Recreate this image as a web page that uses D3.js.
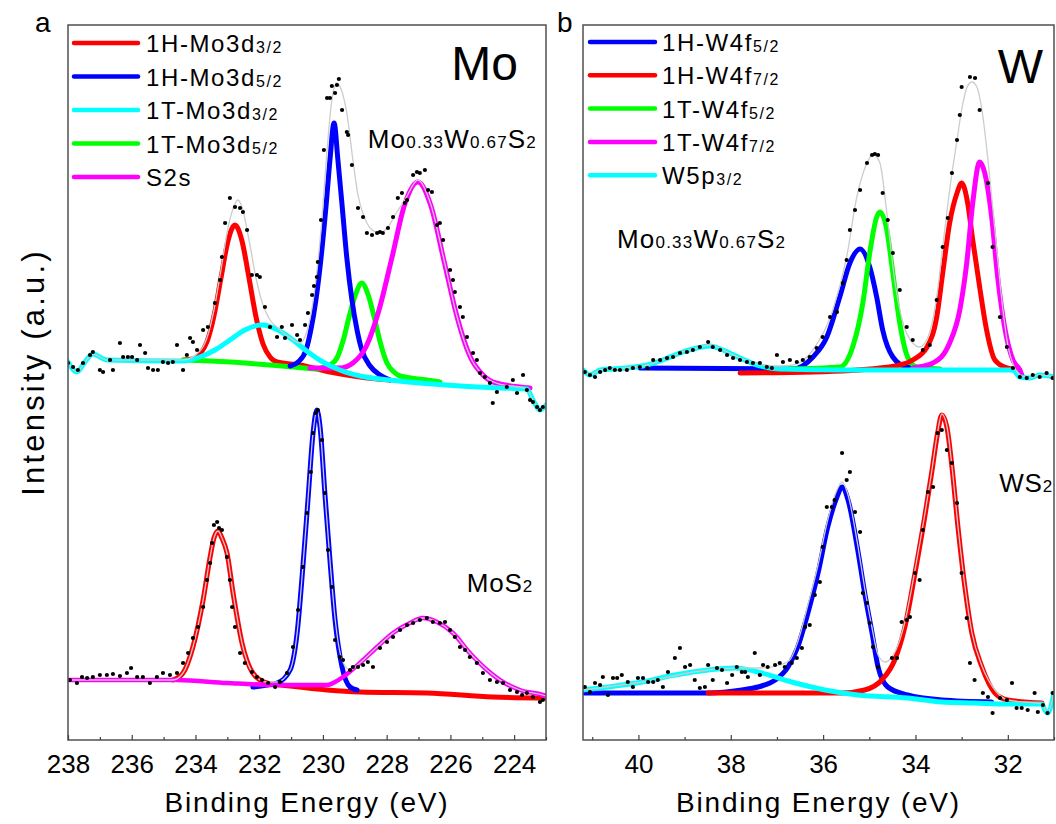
<!DOCTYPE html>
<html><head><meta charset="utf-8">
<script src="https://cdn.jsdelivr.net/npm/d3@7"></script>
<style>
body{margin:0;background:#fff}
svg{display:block}
text{font-family:"Liberation Sans",Arial,sans-serif;fill:#000}
</style>
</head><body>
<svg id="chart" width="1056" height="824"></svg>
<script>
// ---------------- DATA ----------------
const moDomain = [238, 223];
const wDomain = [41.2, 31];
const intensityDomain = [0, 715];
const moTicksMajor = [238, 236, 234, 232, 230, 228, 226, 224];
const moTicksMinor = [237, 235, 233, 231, 229, 227, 225, 223];
const wTicksMajor = [40, 38, 36, 34, 32];
const wTicksMinor = [41, 39, 37, 35, 33, 31];

const moLegendMain = ["1H-Mo3d", "1H-Mo3d", "1T-Mo3d", "1T-Mo3d", "S2s"];
const moLegendSub = ["3/2", "5/2", "3/2", "5/2", ""];
const moLegendColors = ["#ff0000", "#0000ff", "#00ffff", "#00ff00", "#ff00ff"];
const wLegendMain = ["1H-W4f", "1H-W4f", "1T-W4f", "1T-W4f", "W5p"];
const wLegendSub = ["5/2", "7/2", "5/2", "7/2", "3/2"];
const wLegendColors = ["#0000ff", "#ff0000", "#00ff00", "#ff00ff", "#00ffff"];

// Panel a, Mo0.33W0.67S2 (energy eV, intensity a.u.)
const aTopRed = [[234.39,380],[234.08,381],[233.86,386],[233.64,398],[233.42,424],[233.20,462],[232.98,499],[232.76,515],[232.54,499],[232.32,462],[232.10,423],[231.88,396],[231.66,383],[231.44,378],[230.72,375],[229.78,368],[228.84,363],[227.90,360]];
const aTopBlue = [[231.03,374],[230.78,378],[230.53,390],[230.38,410],[230.22,440],[230.06,482],[229.90,535],[229.78,580],[229.65,617],[229.53,580],[229.40,535],[229.25,482],[229.09,440],[228.93,410],[228.78,390],[228.52,374],[228.21,365],[227.90,360]];
const aTopCyan = [[238.00,378],[237.72,368],[237.47,378],[237.22,386],[236.78,380],[234.39,379],[233.86,383],[233.39,390],[232.92,400],[232.45,410],[231.91,415],[231.41,410],[230.94,400],[230.47,388],[230.00,378],[229.47,370],[228.84,364],[227.90,360],[226.96,357],[225.70,354],[224.44,352],[223.60,351],[223.41,340],[223.19,330],[223.00,335]];
const aTopGreen = [[234.39,380],[232.92,378],[230.94,373],[230.16,371],[229.97,373],[229.78,375],[229.56,382],[229.37,399],[229.18,423],[228.96,447],[228.78,457],[228.59,446],[228.37,420],[228.18,395],[227.99,377],[227.77,368],[227.58,364],[226.74,360],[226.33,358]];
const aTopS2s = [[230.41,372],[229.47,372],[229.06,377],[228.65,393],[228.24,430],[227.83,483],[227.43,536],[227.02,558],[226.61,534],[226.20,479],[225.79,423],[225.39,384],[224.98,365],[224.57,357],[223.50,352]];
const aTopFit = [[238.00,378],[237.72,368],[237.47,378],[237.22,386],[236.78,380],[234.39,380],[233.86,389],[233.64,402],[233.42,430],[233.20,470],[232.98,512],[232.76,536],[232.67,540],[232.54,533],[232.32,500],[232.10,462],[231.88,435],[231.66,420],[231.41,412],[231.03,402],[230.72,397],[230.53,406],[230.38,425],[230.22,460],[230.06,510],[229.87,590],[229.72,640],[229.56,657],[229.40,648],[229.25,627],[229.06,580],[228.90,545],[228.78,530],[228.62,517],[228.46,510],[228.21,507],[227.96,513],[227.68,528],[227.43,540],[227.02,560],[226.61,535],[226.20,480],[225.79,423],[225.39,384],[224.98,365],[224.57,357],[223.60,351],[223.41,340],[223.19,330],[223.00,335]];
const aTopData = [[238.00,377],[237.84,373],[237.69,370],[237.53,377],[237.31,385],[237.22,388],[237.00,370],[236.90,368],[236.68,380],[236.59,370],[236.37,397],[236.27,383],[236.12,383],[235.99,383],[235.83,380],[235.74,395],[235.58,387],[235.49,372],[235.33,370],[235.18,370],[235.02,378],[234.86,377],[234.71,378],[234.58,395],[234.39,370],[234.27,385],[234.17,402],[234.08,398],[233.95,390],[233.76,410],[233.61,413],[233.39,437],[233.23,460],[233.17,483],[233.07,517],[232.92,542],[232.76,533],[232.60,532],[232.51,528],[232.38,510],[232.23,465],[232.07,465],[231.98,463],[231.82,433],[231.66,413],[231.44,403],[231.29,413],[231.19,402],[230.97,415],[230.81,405],[230.72,400],[230.56,415],[230.47,427],[230.34,445],[230.28,454],[230.19,463],[230.16,478],[230.06,520],[229.97,590],[229.87,642],[229.78,642],[229.72,654],[229.62,647],[229.56,655],[229.50,661],[229.40,630],[229.25,608],[229.21,605],[229.09,575],[228.90,532],[228.74,523],[228.62,507],[228.46,505],[228.30,507],[228.21,508],[228.12,507],[227.96,512],[227.80,523],[227.65,542],[227.52,547],[227.43,537],[227.36,540],[227.17,565],[227.05,568],[226.96,567],[226.80,570],[226.70,550],[226.58,548],[226.42,515],[226.33,517],[226.23,500],[226.01,470],[225.92,460],[225.86,448],[225.70,433],[225.61,423],[225.48,403],[225.29,387],[225.17,380],[225.07,367],[224.92,363],[224.76,357],[224.67,337],[224.54,348],[224.23,353],[224.04,360],[223.91,347],[223.72,365],[223.60,350],[223.50,340],[223.41,338],[223.28,333],[223.19,330],[223.10,333]];

// Panel a, MoS2
const aBotRed = [[234.71,60],[234.39,67],[234.08,93],[233.76,140],[233.54,183],[233.42,202],[233.29,209],[233.17,202],[233.01,187],[232.82,147],[232.54,97],[232.20,67],[231.76,57],[231.03,54],[229.87,50],[228.84,48],[226.74,47],[224.67,43],[223.00,42]];
const aBotBlue = [[232.20,53],[231.44,57],[231.03,70],[230.81,107],[230.63,173],[230.47,240],[230.31,307],[230.19,330],[230.09,313],[229.94,247],[229.78,180],[229.62,120],[229.40,73],[229.15,53],[228.93,50]];
const aBotS2s = [[238.00,60],[234.58,60],[233.01,57],[231.44,55],[229.87,55],[229.62,58],[229.37,63],[228.84,77],[228.30,93],[227.80,107],[227.27,117],[226.86,122],[226.42,118],[225.92,107],[225.39,87],[224.85,70],[224.35,58],[223.82,50],[223.10,45],[223.00,44]];
const aBotFit = [[238.00,60],[234.71,60],[234.39,67],[234.08,93],[233.76,140],[233.54,183],[233.42,202],[233.29,209],[233.17,202],[233.01,187],[232.82,147],[232.54,97],[232.20,67],[231.76,58],[231.44,58],[231.03,70],[230.81,107],[230.63,173],[230.47,240],[230.31,307],[230.19,330],[230.09,313],[229.94,247],[229.78,180],[229.62,122],[229.40,80],[229.15,70],[228.84,77],[228.30,93],[227.80,107],[227.27,117],[226.86,122],[226.42,118],[225.92,107],[225.39,87],[224.85,70],[224.35,58],[223.82,50],[223.10,45],[223.00,44]];
const aBotData = [[237.94,60],[237.72,57],[237.56,63],[237.40,62],[237.22,63],[237.00,65],[236.78,65],[236.59,66],[236.37,64],[236.15,67],[236.02,72],[235.83,63],[235.65,63],[235.43,57],[235.21,63],[235.02,67],[234.80,65],[234.58,67],[234.39,77],[234.23,87],[234.08,102],[233.92,113],[233.76,133],[233.64,160],[233.54,177],[233.48,197],[233.42,215],[233.32,218],[233.26,212],[233.17,210],[233.01,183],[232.92,160],[232.85,133],[232.76,113],[232.60,87],[232.45,77],[232.23,68],[232.07,63],[231.91,60],[231.72,57],[231.50,53],[231.35,58],[231.13,67],[230.94,93],[230.78,130],[230.63,173],[230.50,227],[230.38,268],[230.31,307],[230.22,327],[230.16,330],[230.03,300],[229.94,247],[229.84,190],[229.72,153],[229.62,100],[229.47,83],[229.37,80],[229.15,70],[229.06,73],[228.90,73],[228.74,75],[228.59,78],[228.43,73],[228.21,92],[227.99,98],[227.80,103],[227.58,110],[227.36,115],[227.17,117],[226.96,120],[226.74,122],[226.55,118],[226.33,117],[226.17,118],[226.01,110],[225.86,103],[225.70,93],[225.54,90],[225.39,83],[225.17,77],[224.98,67],[224.76,60],[224.54,58],[224.35,57],[224.13,50],[223.91,48],[223.75,45],[223.60,47],[223.41,43],[223.19,38],[223.10,40]];

// Panel b, Mo0.33W0.67S2
const bTopBlue = [[39.97,372],[36.65,371],[36.22,383],[35.92,403],[35.64,443],[35.42,477],[35.20,491],[34.99,473],[34.84,443],[34.71,410],[34.49,383],[34.19,373],[33.75,371]];
const bTopGreen = [[36.78,371],[35.64,373],[35.36,393],[35.14,437],[34.99,487],[34.84,523],[34.77,528],[34.62,510],[34.49,467],[34.34,417],[34.17,383],[33.97,373],[33.47,371]];
const bTopRed = [[37.80,367],[36.22,368],[34.77,372],[34.34,375],[34.06,380],[33.75,393],[33.54,423],[33.41,467],[33.26,517],[33.10,547],[33.00,557],[32.87,537],[32.76,500],[32.61,453],[32.46,410],[32.28,380],[32.02,372],[31.74,370]];
const bTopMagenta = [[34.06,372],[33.62,377],[33.26,397],[33.04,430],[32.89,477],[32.76,537],[32.61,578],[32.50,567],[32.35,523],[32.22,463],[32.07,413],[31.89,380],[31.74,370],[31.68,363]];
const bTopCyan = [[41.20,370],[41.05,365],[40.83,370],[40.55,371],[39.81,375],[39.47,380],[39.10,387],[38.73,392],[38.45,394],[38.17,390],[37.80,382],[37.43,375],[36.94,371],[35.49,370],[31.89,370],[31.74,363],[31.52,362],[31.31,365],[31.00,363]];
const bTopFit = [[41.20,370],[41.05,365],[40.83,370],[40.55,371],[39.81,375],[39.47,380],[39.10,387],[38.73,392],[38.45,395],[38.17,390],[37.80,382],[37.43,376],[36.94,374],[36.65,375],[36.22,390],[35.79,430],[35.49,483],[35.27,543],[35.05,577],[34.92,586],[34.77,577],[34.62,527],[34.45,460],[34.27,417],[34.06,397],[33.91,393],[33.73,403],[33.54,443],[33.41,493],[33.26,550],[33.10,600],[33.00,630],[32.89,652],[32.78,658],[32.67,653],[32.56,630],[32.43,580],[32.28,510],[32.13,440],[32.00,395],[31.85,372],[31.74,365],[31.52,362],[31.31,365],[31.00,363]];
const bTopData = [[41.16,368],[41.05,365],[40.94,363],[40.83,368],[40.72,370],[40.62,372],[40.51,370],[40.40,370],[40.25,370],[40.12,372],[39.97,373],[39.81,372],[39.68,380],[39.53,380],[39.38,382],[39.25,383],[39.10,387],[38.95,388],[38.82,390],[38.67,393],[38.49,398],[38.39,393],[38.23,390],[38.08,385],[37.95,382],[37.80,380],[37.65,378],[37.52,377],[37.37,377],[37.22,373],[37.11,372],[37.00,385],[36.87,378],[36.72,380],[36.57,378],[36.44,380],[36.29,383],[36.14,392],[36.01,403],[35.85,423],[35.70,428],[35.57,457],[35.49,480],[35.42,510],[35.31,530],[35.20,550],[35.05,577],[34.94,585],[34.88,586],[34.81,585],[34.71,547],[34.60,520],[34.49,487],[34.34,450],[34.19,413],[34.06,400],[33.84,390],[33.69,395],[33.54,440],[33.41,493],[33.30,522],[33.21,567],[33.10,600],[33.04,625],[33.00,653],[32.82,663],[32.71,662],[32.61,630],[32.43,557],[32.33,493],[32.17,423],[32.02,393],[31.89,372],[31.74,363],[31.59,362],[31.46,365],[31.31,363],[31.16,367],[31.03,362]];

// Panel b, WS2
const bBotBlue = [[41.16,47],[38.49,47],[37.76,50],[37.41,53],[37.04,60],[36.76,73],[36.55,93],[36.33,127],[36.11,167],[35.90,213],[35.70,243],[35.59,253],[35.46,240],[35.25,190],[35.10,147],[34.94,107],[34.81,73],[34.60,53],[34.17,45],[33.43,40],[32.35,38]];
const bBotRed = [[38.49,47],[36.33,47],[35.59,47],[35.10,50],[34.73,60],[34.45,80],[34.23,113],[34.01,167],[33.80,223],[33.65,267],[33.52,307],[33.43,325],[33.32,313],[33.21,273],[33.08,213],[32.93,153],[32.78,107],[32.56,73],[32.28,47],[32.00,40],[31.26,37]];
const bBotCyan = [[41.20,50],[40.66,53],[39.92,58],[39.21,65],[38.49,70],[37.91,72],[37.41,68],[36.68,58],[35.96,50],[35.25,45],[34.17,42],[33.43,38],[32.72,37],[32.00,36],[31.26,36],[31.20,30],[31.14,27],[31.00,47]];
const bBotFit = [[41.20,50],[39.92,58],[38.49,70],[37.91,72],[37.37,72],[36.94,75],[36.72,80],[36.55,98],[36.33,135],[36.11,175],[35.90,220],[35.70,250],[35.59,258],[35.46,245],[35.25,195],[35.10,152],[34.94,112],[34.81,85],[34.66,78],[34.51,83],[34.34,100],[34.23,118],[34.01,170],[33.80,225],[33.65,268],[33.52,308],[33.43,326],[33.32,314],[33.21,274],[33.08,214],[32.93,154],[32.78,108],[32.56,74],[32.28,50],[32.00,40],[31.26,36],[31.14,27],[31.00,47]];
const bBotData = [[41.16,53],[41.05,48],[40.94,57],[40.83,55],[40.77,63],[40.66,45],[40.55,62],[40.46,62],[40.36,65],[40.23,58],[40.12,53],[40.01,62],[39.90,62],[39.79,58],[39.68,58],[39.58,60],[39.47,53],[39.36,68],[39.21,82],[39.10,92],[38.99,73],[38.88,75],[38.78,60],[38.67,52],[38.56,53],[38.49,75],[38.39,60],[38.30,72],[38.19,70],[38.08,57],[37.97,65],[37.87,73],[37.76,68],[37.69,68],[37.63,63],[37.48,87],[37.37,65],[37.30,75],[37.20,73],[37.04,75],[36.94,77],[36.83,73],[36.68,77],[36.57,82],[36.46,92],[36.39,113],[36.29,115],[36.18,145],[36.07,158],[36.01,193],[35.92,233],[35.81,233],[35.75,240],[35.59,287],[35.49,260],[35.42,268],[35.31,228],[35.20,208],[35.14,147],[35.05,137],[34.99,117],[34.92,93],[34.81,73],[34.51,82],[34.40,82],[34.30,118],[34.19,120],[34.12,123],[34.01,167],[33.91,160],[33.84,210],[33.73,248],[33.62,253],[33.52,307],[33.43,310],[33.32,290],[33.21,277],[33.10,237],[33.00,167],[32.89,122],[32.82,77],[32.72,60],[32.54,47],[32.43,43],[32.33,27],[32.17,42],[32.02,40],[31.91,57],[31.81,32],[31.70,32],[31.57,30],[31.42,47],[31.35,28],[31.24,35],[31.14,27],[31.03,47]];

// ---------------- LAYOUT ----------------
const PLOT_TOP = 25, PLOT_BOTTOM = 740;
const FONT = '"Liberation Sans", Arial, sans-serif';

const panels = [
  {
    id: "a", left: 68, right: 546, domain: moDomain,
    major: moTicksMajor, minor: moTicksMinor,
    series: [
      {data: aTopRed, color: "#ff0000", w: 5},
      {data: aTopGreen, color: "#00ff00", w: 5},
      {data: aTopBlue, color: "#0000ff", w: 5},
      {data: aTopS2s, color: "#ff00ff", w: 5},
      {data: aTopCyan, color: "#00ffff", w: 5},
      {data: aBotRed, color: "#ff0000", w: 5},
      {data: aBotBlue, color: "#0000ff", w: 5},
      {data: aBotS2s, color: "#ff00ff", w: 4.5}
    ],
    fits: [aTopFit, aBotFit],
    dots: [aTopData, aBotData],
    legend: {main: moLegendMain, sub: moLegendSub, colors: moLegendColors, x1: 74, x2: 138, tx: 146, y0: 43, dy: 33.5},
    letter: {t: "a", x: 35, y: 32}
  },
  {
    id: "b", left: 583, right: 1054, domain: wDomain,
    major: wTicksMajor, minor: wTicksMinor,
    series: [
      {data: bTopBlue, color: "#0000ff", w: 5},
      {data: bTopGreen, color: "#00ff00", w: 5},
      {data: bTopRed, color: "#ff0000", w: 5},
      {data: bTopMagenta, color: "#ff00ff", w: 5},
      {data: bTopCyan, color: "#00ffff", w: 5},
      {data: bBotBlue, color: "#0000ff", w: 5},
      {data: bBotRed, color: "#ff0000", w: 5},
      {data: bBotCyan, color: "#00ffff", w: 5}
    ],
    fits: [bTopFit, bBotFit],
    dots: [bTopData, bBotData],
    legend: {main: wLegendMain, sub: wLegendSub, colors: wLegendColors, x1: 590, x2: 655, tx: 662, y0: 42, dy: 33.3},
    letter: {t: "b", x: 557, y: 32}
  }
];

const svg = d3.select("#chart");
const y = d3.scaleLinear().domain(intensityDomain).range([PLOT_BOTTOM, PLOT_TOP]);

function richText(g, x, yy, parts, anchor, spacing) {
  const t = g.append("text").attr("x", x).attr("y", yy)
    .attr("text-anchor", anchor || "start")
    .style("letter-spacing", (spacing || 0) + "px");
  parts.forEach(p => {
    const ts = t.append("tspan").text(p[0]).style("font-size", p[1] + "px");
    if (p[2]) ts.attr("dy", p[2]);
  });
  return t;
}

panels.forEach(p => {
  const x = d3.scaleLinear().domain(p.domain).range([p.left, p.right]);
  const g = svg.append("g");
  const clip = svg.append("clipPath").attr("id", "clip-" + p.id);
  clip.append("rect").attr("x", p.left).attr("y", PLOT_TOP)
    .attr("width", p.right - p.left).attr("height", PLOT_BOTTOM - PLOT_TOP);
  const plot = g.append("g").attr("clip-path", `url(#clip-${p.id})`);
  const line = d3.line().x(d => x(d[0])).y(d => y(d[1])).curve(d3.curveMonotoneX);

  p.series.forEach(s => {
    plot.append("path").attr("d", line(s.data)).attr("fill", "none")
      .attr("stroke", s.color).attr("stroke-width", s.w)
      .attr("stroke-linejoin", "round").attr("stroke-linecap", "round");
  });
  p.fits.forEach(f => {
    plot.append("path").attr("d", line(f)).attr("fill", "none")
      .attr("stroke", "#cccccc").attr("stroke-width", 1.3);
  });
  p.dots.forEach(ds => {
    plot.selectAll(null).data(ds).enter().append("circle")
      .attr("cx", d => x(d[0])).attr("cy", d => y(d[1])).attr("r", 2.1)
      .attr("fill", "#000");
  });

  // frame
  g.append("rect").attr("x", p.left).attr("y", PLOT_TOP)
    .attr("width", p.right - p.left).attr("height", PLOT_BOTTOM - PLOT_TOP)
    .attr("fill", "none").attr("stroke", "#505050").attr("stroke-width", 1.5);

  // axes
  const axMajor = d3.axisBottom(x).tickValues(p.major).tickSize(-5).tickPadding(15).tickFormat(d3.format("d"));
  const axMinor = d3.axisBottom(x).tickValues(p.minor).tickSize(-3).tickFormat("");
  const ga = g.append("g").attr("transform", `translate(0,${PLOT_BOTTOM})`).call(axMajor);
  ga.select(".domain").remove();
  ga.selectAll(".tick line").attr("stroke", "#404040").attr("stroke-width", 1.2);
  ga.selectAll(".tick text").style("font-size", "26px").style("font-family", FONT).attr("fill", "#111");
  const gm = g.append("g").attr("transform", `translate(0,${PLOT_BOTTOM})`).call(axMinor);
  gm.select(".domain").remove();
  gm.selectAll(".tick line").attr("stroke", "#404040").attr("stroke-width", 1.2);

  // axis title
  g.append("text").attr("x", (p.left + p.right) / 2).attr("y", 812)
    .attr("text-anchor", "middle").style("font-size", "28px").style("letter-spacing", "1.8px")
    .attr("fill", "#111").text("Binding Energy (eV)");

  // legend
  const L = p.legend;
  L.main.forEach((m, i) => {
    const yy = L.y0 + i * L.dy;
    g.append("line").attr("x1", L.x1).attr("x2", L.x2).attr("y1", yy).attr("y2", yy)
      .attr("stroke", L.colors[i]).attr("stroke-width", 4.5).attr("stroke-linecap", "round");
    const parts = [[m, 24]];
    if (L.sub[i]) parts.push([L.sub[i], 16, 1]);
    richText(g, L.tx, yy + 9, parts, "start", 1.6);
  });

  // panel letter
  g.append("text").attr("x", p.letter.x).attr("y", p.letter.y).style("font-size", "28px").text(p.letter.t);
});

// annotations
richText(svg, 518, 80, [["Mo", 48]], "end", 0);
richText(svg, 1043, 83, [["W", 48]], "end", 0);
richText(svg, 537, 148, [["Mo", 26], ["0.33", 17], ["W", 26], ["0.67", 17], ["S", 26], ["2", 17]], "end", 1.2);
richText(svg, 617, 248, [["Mo", 26], ["0.33", 17], ["W", 26], ["0.67", 17], ["S", 26], ["2", 17]], "start", 1.2);
richText(svg, 533, 592, [["MoS", 26], ["2", 17]], "end", 0.8);
richText(svg, 1053, 492, [["WS", 26], ["2", 17]], "end", 0.8);

// y label
svg.append("text").attr("transform", "translate(44,372) rotate(-90)")
  .attr("text-anchor", "middle").style("font-size", "31px").style("letter-spacing", "3.2px")
  .attr("fill", "#111").text("Intensity (a.u.)");
</script>
</body></html>
